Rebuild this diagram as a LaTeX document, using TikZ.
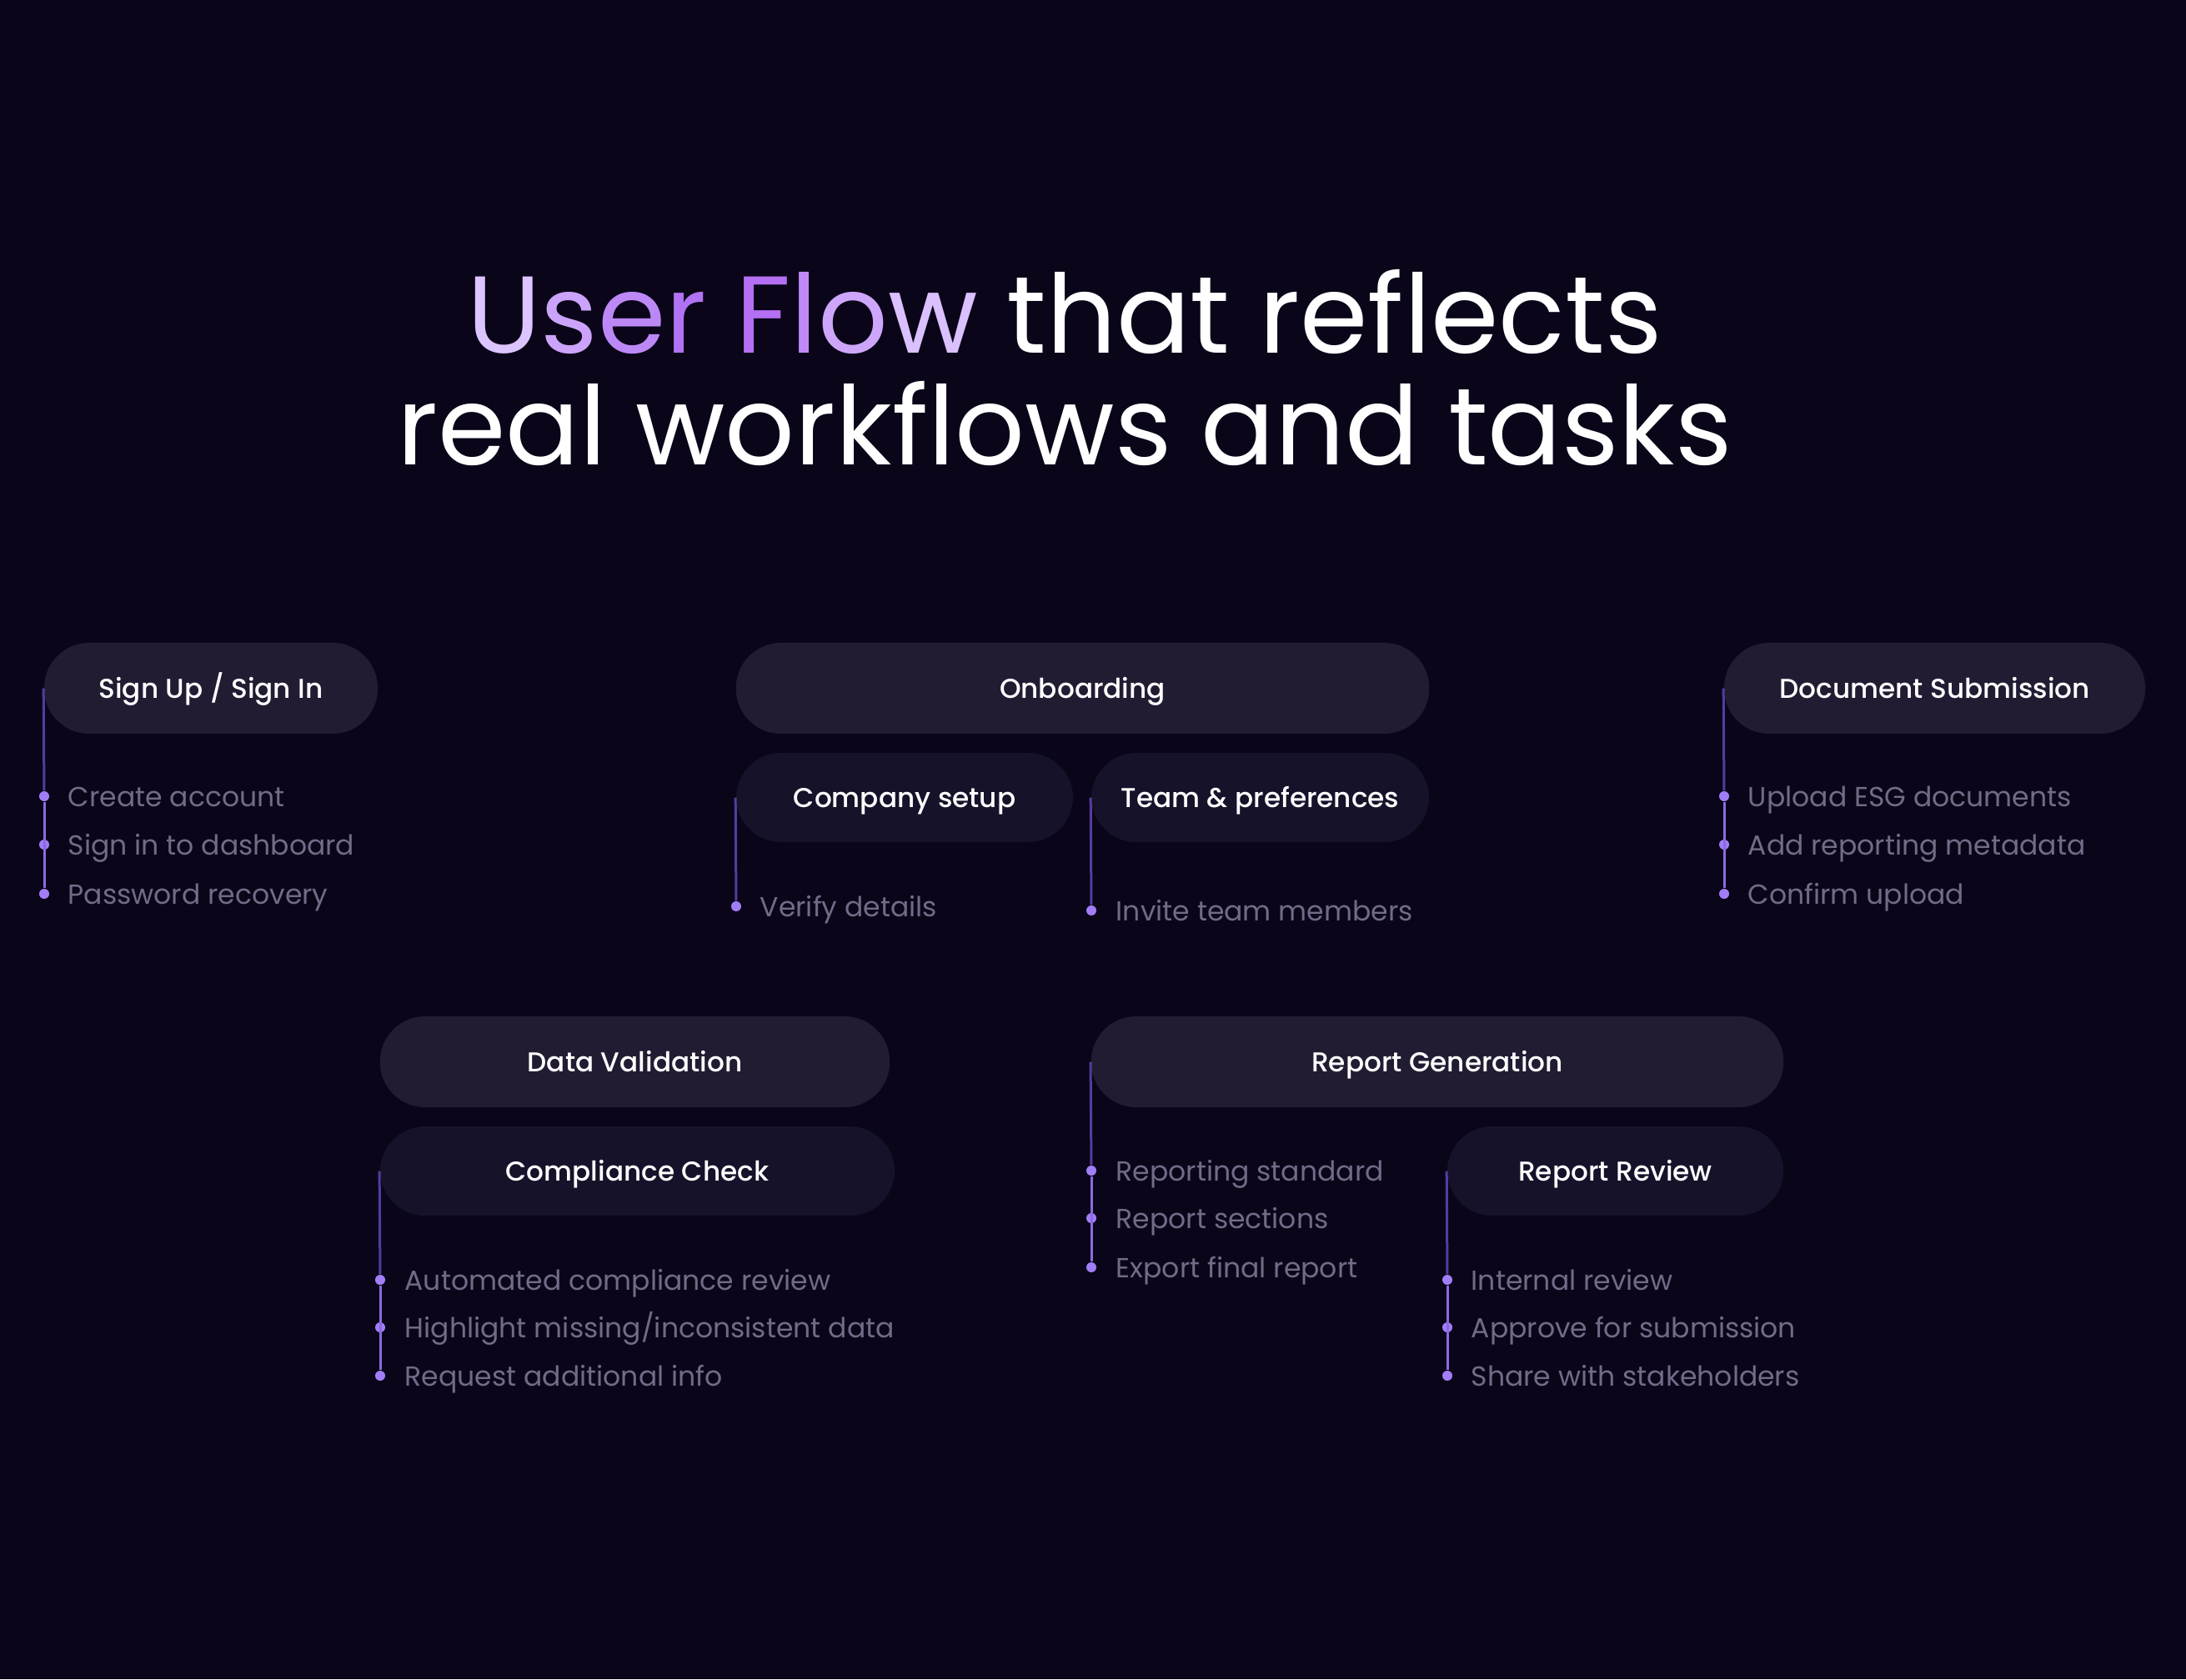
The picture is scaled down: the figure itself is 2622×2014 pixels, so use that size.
\documentclass[tikz,border=0pt]{standalone}
\usepackage{fontspec}
\setmainfont{Poppins}
\newfontfamily\pillfont{Poppins Medium}
\usepackage{tikz}
\usetikzlibrary{positioning}

\definecolor{bgnight}{HTML}{0A0519}
\definecolor{pilltop}{HTML}{221C33}
\definecolor{pilllow}{HTML}{16122A}
\definecolor{itemgrey}{HTML}{726B87}
\definecolor{dotpurple}{HTML}{A17EF7}
\definecolor{stemdim}{HTML}{553C9E}
\definecolor{stemlitcol}{HTML}{8C69E4}
\definecolor{ufa}{HTML}{DCC4FF}
\definecolor{ufb}{HTML}{CBA3FA}
\definecolor{ufc}{HTML}{BC88F6}
\definecolor{ufd}{HTML}{B172F3}
\definecolor{ufe}{HTML}{B46FF3}
\definecolor{uff}{HTML}{C08AF6}
\definecolor{ufg}{HTML}{CDA6FA}
\definecolor{ufh}{HTML}{DAC0FD}

\tikzset{pill/.style={rectangle,rounded corners=0.54cm,fill=pilltop,minimum height=1.09cm,inner sep=0pt,text height=0.7em,text depth=0pt,text=white,font=\pillfont\fontsize{9.3}{11}\selectfont},
  subpill/.style={pill,fill=pilllow,minimum height=1.07cm},
  dot/.style={circle,fill=dotpurple,inner sep=0pt,minimum size=0.12cm},
  item/.style={anchor=mid west,inner sep=0pt,text=itemgrey,font=\fontsize{9.4}{11}\selectfont},
  stem/.style={draw=stemdim,line width=0.03cm},
  stemlit/.style={draw=stemlitcol,line width=0.03cm},
  title/.style={anchor=base,inner sep=0pt,text=white,font=\fontsize{37.3}{40}\selectfont}}

\begin{document}
\begin{tikzpicture}[x=0.01cm,y=-0.01cm]
    \fill[bgnight] (0,0) rectangle (2622,2014);
    \useasboundingbox (0,0) rectangle (2622,2014);

    % heading
    \node[title] (head1) at (1277,423) {{\color{ufa}U}{\color{ufb}s}{\color{ufc}e}{\color{ufd}r} {\color{ufe}F}{\color{uff}l}{\color{ufg}o}{\color{ufh}w} that reflects};
    \node[title] (head2) at (1277,557) {real workflows and tasks};

    % top row
    \node[pill,minimum width=4.00cm] (signup) at (253,825.5) {Sign Up / Sign In};
    \node[pill,minimum width=8.31cm] (onboard) at (1298.5,825.5) {Onboarding};
    \node[pill,minimum width=5.05cm] (docsub) at (2320.5,825.5) {Document Submission};
    \node[subpill,minimum width=4.04cm] (company) at (1085,956.5) {Company setup};
    \node[subpill,minimum width=4.05cm] (team) at (1511.5,956.5) {Team \& preferences};

    % bottom row
    \node[pill,minimum width=6.11cm] (datavalid) at (761.5,1273.5) {Data Validation};
    \node[subpill,minimum width=6.17cm] (compliance) at (764.5,1404.5) {Compliance Check};
    \node[pill,minimum width=8.30cm] (reportgen) at (1724,1273.5) {Report Generation};
    \node[subpill,minimum width=4.03cm] (review) at (1937.5,1404.5) {Report Review};

    % sign up steps
    \node[dot] (su1) at (53,955) {};
    \node[dot] (su2) at (53,1013) {};
    \node[dot] (su3) at (53,1072) {};
    \node[item] (su1t) at (81,958) {Create account};
    \node[item] (su2t) at (81,1016) {Sign in to dashboard};
    \node[item] (su3t) at (81,1075) {Password recovery};
    \draw[stem] (signup.west) -- (su1);
    \draw[stemlit] (su1) -- (su3);

    % onboarding steps
    \node[dot] (co1) at (883,1087) {};
    \node[item] (co1t) at (911,1090) {Verify details};
    \draw[stem] (company.west) -- (co1);
    \node[dot] (tm1) at (1309,1092) {};
    \node[item] (tm1t) at (1338,1095) {Invite team members};
    \draw[stem] (team.west) -- (tm1);

    % document steps
    \node[dot] (ds1) at (2068,955) {};
    \node[dot] (ds2) at (2068,1013) {};
    \node[dot] (ds3) at (2068,1072) {};
    \node[item] (ds1t) at (2096,958) {Upload ESG documents};
    \node[item] (ds2t) at (2096,1016) {Add reporting metadata};
    \node[item] (ds3t) at (2096,1075) {Confirm upload};
    \draw[stem] (docsub.west) -- (ds1);
    \draw[stemlit] (ds1) -- (ds3);

    % compliance steps
    \node[dot] (cc1) at (456,1535) {};
    \node[dot] (cc2) at (456,1592) {};
    \node[dot] (cc3) at (456,1650) {};
    \node[item] (cc1t) at (485,1538) {Automated compliance review};
    \node[item] (cc2t) at (485,1595) {Highlight missing/inconsistent data};
    \node[item] (cc3t) at (485,1653) {Request additional info};
    \draw[stem] (compliance.west) -- (cc1);
    \draw[stemlit] (cc1) -- (cc3);

    % report steps
    \node[dot] (rg1) at (1309,1404) {};
    \node[dot] (rg2) at (1309,1461) {};
    \node[dot] (rg3) at (1309,1520) {};
    \node[item] (rg1t) at (1338,1407) {Reporting standard};
    \node[item] (rg2t) at (1338,1464) {Report sections};
    \node[item] (rg3t) at (1338,1523) {Export final report};
    \draw[stem] (reportgen.west) -- (rg1);
    \draw[stemlit] (rg1) -- (rg3);

    % review steps
    \node[dot] (rr1) at (1736,1535) {};
    \node[dot] (rr2) at (1736,1592) {};
    \node[dot] (rr3) at (1736,1650) {};
    \node[item] (rr1t) at (1764,1538) {Internal review};
    \node[item] (rr2t) at (1764,1595) {Approve for submission};
    \node[item] (rr3t) at (1764,1653) {Share with stakeholders};
    \draw[stem] (review.west) -- (rr1);
    \draw[stemlit] (rr1) -- (rr3);
\end{tikzpicture}
\end{document}
